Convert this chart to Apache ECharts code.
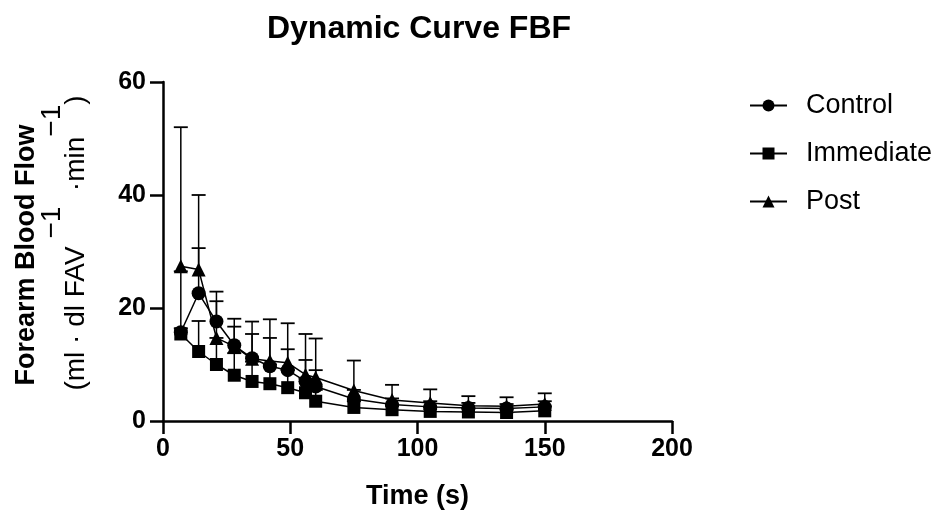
<!DOCTYPE html>
<html>
<head>
<meta charset="utf-8">
<script src="https://cdn.jsdelivr.net/npm/echarts@6/dist/echarts.min.js"></script>
<style>
html,body{margin:0;padding:0;background:#fff;}
#chart{width:936px;height:515px;}
</style>
</head>
<body>
<div id="chart"></div>
<script>
const times = [7, 14, 21, 28, 35, 42, 49, 56, 60, 75, 90, 105, 120, 135, 150];
const controlMean = [15.7, 22.6, 17.6, 13.4, 11.1, 9.7, 9.0, 7.0, 6.1, 3.9, 2.9, 2.5, 2.3, 2.2, 2.5];
const controlSD = [10.8, 8.0, 5.3, 3.3, 4.3, 5.0, 3.7, 3.8, 2.9, 1.6, 1.1, 1.0, 0.9, 0.8, 1.0];
const immediateMean = [15.4, 12.3, 10.0, 8.1, 7.0, 6.6, 5.9, 5.0, 3.5, 2.4, 2.0, 1.7, 1.6, 1.5, 1.8];
const immediateSD = [1.0, 5.4, 4.7, 3.9, 3.5, 3.4, 3.1, 2.5, 2.0, 1.1, 0.8, 0.7, 0.6, 0.5, 0.8];
const postMean = [27.4, 26.8, 14.7, 13.2, 11.0, 10.6, 10.3, 8.2, 7.7, 5.4, 3.7, 3.2, 2.7, 2.6, 3.0];
const postSD = [24.6, 13.2, 6.5, 4.9, 6.6, 7.4, 7.0, 7.2, 6.9, 5.3, 2.7, 2.4, 1.7, 1.6, 1.9];
const seriesNames = ['Control', 'Immediate', 'Post'];
const xTicks = [0, 50, 100, 150, 200];
const yTicks = [0, 20, 40, 60];

const FONT = "'Liberation Sans', Arial, Helvetica, sans-serif";

function pts(mean) { return times.map((t, i) => [t, mean[i]]); }
function errPts(mean, sd) { return times.map((t, i) => [t, mean[i], mean[i] + sd[i]]); }

function errorSeries(mean, sd) {
  return {
    type: 'custom',
    silent: true,
    z: 1,
    data: errPts(mean, sd),
    renderItem: function (params, api) {
      const p0 = api.coord([api.value(0), api.value(1)]);
      const p1 = api.coord([api.value(0), api.value(2)]);
      const half = 7;
      return {
        type: 'group',
        children: [
          { type: 'line', shape: { x1: p0[0], y1: p0[1], x2: p1[0], y2: p1[1] }, style: { stroke: '#000', lineWidth: 1.5 } },
          { type: 'line', shape: { x1: p1[0] - half, y1: p1[1], x2: p1[0] + half, y2: p1[1] }, style: { stroke: '#000', lineWidth: 1.8 } }
        ]
      };
    }
  };
}

function lineSeries(name, mean, symbol, size) {
  return {
    name: name,
    type: 'line',
    z: 3,
    data: pts(mean),
    symbol: symbol,
    symbolSize: size,
    showAllSymbol: true,
    lineStyle: { color: '#000', width: 1.5 },
    itemStyle: { color: '#000', borderWidth: 0 },
    emphasis: { disabled: true },
    animation: false
  };
}

const chart = echarts.init(document.getElementById('chart'), null, { renderer: 'canvas' });
chart.setOption({
  animation: false,
  backgroundColor: '#fff',
  title: {
    text: 'Dynamic Curve FBF',
    left: 414, top: 8,
    textAlign: 'center',
    textStyle: { fontFamily: FONT, fontSize: 32, fontWeight: 'bold', color: '#000' }
  },
  legend: {
    orient: 'vertical',
    left: 744, top: 87,
    data: seriesNames,
    itemWidth: 37, itemHeight: 15,
    itemGap: 21,
    textStyle: { fontFamily: FONT, fontSize: 27, color: '#000', padding: [0, 0, 0, 14] }
  },
  grid: { left: 163, right: 264, top: 82, bottom: 94, containLabel: false },
  xAxis: {
    type: 'value', min: xTicks[0], max: xTicks[xTicks.length - 1], interval: 50,
    name: 'Time (s)', nameLocation: 'middle', nameGap: 62,
    nameTextStyle: { fontFamily: FONT, fontSize: 27, fontWeight: 'bold', color: '#000' },
    axisLine: { onZero: false, lineStyle: { color: '#000', width: 2.5 } },
    axisTick: { show: true, length: 13, lineStyle: { color: '#000', width: 2.5 } },
    axisLabel: { fontFamily: FONT, fontSize: 25, fontWeight: 'bold', color: '#000', margin: 16 },
    splitLine: { show: false }
  },
  yAxis: {
    type: 'value', min: yTicks[0], max: yTicks[yTicks.length - 1], interval: 20,
    axisLine: { show: true, lineStyle: { color: '#000', width: 2.5 } },
    axisTick: { show: true, length: 13, lineStyle: { color: '#000', width: 2.5 } },
    axisLabel: { fontFamily: FONT, fontSize: 25, fontWeight: 'bold', color: '#000', margin: 17 },
    splitLine: { show: false }
  },
  graphic: [
    {
      type: 'text', x: 27, y: 255, rotation: Math.PI / 2,
      style: { text: 'Forearm Blood Flow', fontFamily: FONT, fontSize: 27, fontWeight: 'bold', fill: '#000', align: 'center', verticalAlign: 'middle' }
    },
    {
      type: 'text', x: 64, y: 243, rotation: Math.PI / 2,
      style: {
        text: '{n|(ml · dl FAV }{s|−1}{n|  ·min}{s|−1}{n|)}',
        align: 'center', verticalAlign: 'middle',
        rich: {
          n: { fontFamily: FONT, fontSize: 28, fill: '#000', lineHeight: 52, verticalAlign: 'bottom' },
          s: { fontFamily: FONT, fontSize: 28, fill: '#000', lineHeight: 52, verticalAlign: 'top' }
        }
      }
    }
  ],
  series: [
    errorSeries(controlMean, controlSD),
    errorSeries(immediateMean, immediateSD),
    errorSeries(postMean, postSD),
    lineSeries('Control', controlMean, 'circle', 14),
    lineSeries('Immediate', immediateMean, 'rect', 13),
    lineSeries('Post', postMean, 'triangle', 14)
  ]
});
</script>
</body>
</html>
